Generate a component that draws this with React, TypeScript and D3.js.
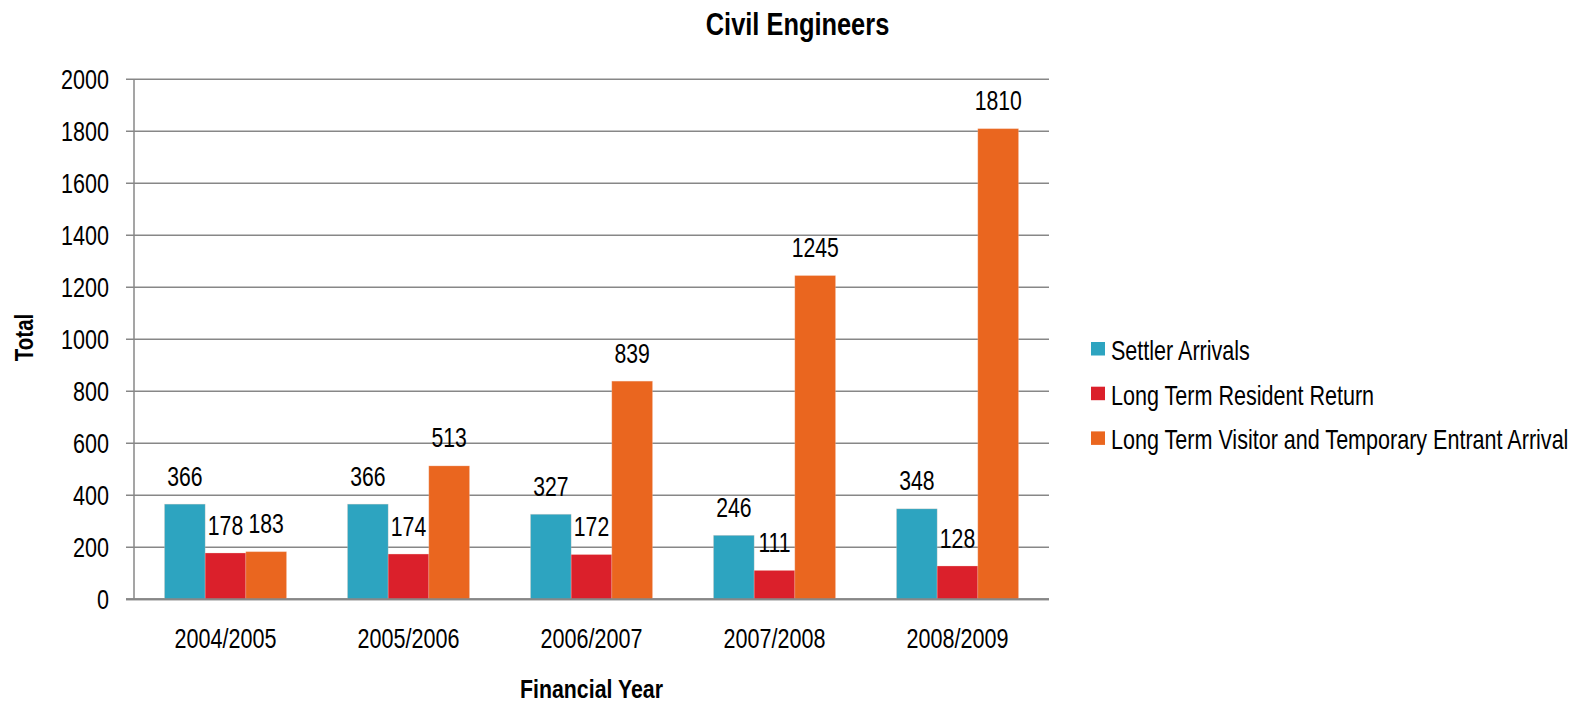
import React from 'react';
import * as d3 from 'd3';

const categories = ['2004/2005', '2005/2006', '2006/2007', '2007/2008', '2008/2009'];
const seriesNames = ['Settler Arrivals', 'Long Term Resident Return', 'Long Term Visitor and Temporary Entrant Arrival'];
const settlerArrivals = [366, 366, 327, 246, 348];
const residentReturn = [178, 174, 172, 111, 128];
const visitorArrival = [183, 513, 839, 1245, 1810];
const seriesColors = ['#2DA4C0', '#DB202B', '#EA661F'];
const yTicks = [0, 200, 400, 600, 800, 1000, 1200, 1400, 1600, 1800, 2000];

const FONT = '"Liberation Sans", Arial, sans-serif';

type NProps = {
  x: number;
  y: number;
  size: number;
  anchor?: 'start' | 'middle' | 'end';
  bold?: boolean;
  rotate?: number;
  dy?: string;
  sx?: number;
  children: React.ReactNode;
};

function NText({ x, y, size, anchor = 'start', bold = false, rotate = 0, dy, sx = 0.77, children }: NProps) {
  return (
    <text
      transform={`translate(${x},${y}) rotate(${rotate}) scale(${sx},1)`}
      textAnchor={anchor}
      fontSize={size}
      fontWeight={bold ? 'bold' : 'normal'}
      dy={dy}
      fill="#000"
    >
      {children}
    </text>
  );
}

export default function App() {
  const W = 1591, H = 703;
  const left = 134, right = 1049, top = 79.3, bottom = 599.3;
  const seriesValues = [settlerArrivals, residentReturn, visitorArrival];

  const x0 = d3.scaleBand<string>().domain(categories).range([left, right]).paddingInner(1 / 3).paddingOuter(1 / 6);
  const x1 = d3.scaleBand<string>().domain(seriesNames).range([0, x0.bandwidth()]).padding(0);
  const y = d3.scaleLinear().domain([0, 2000]).range([bottom, top]);

  const gridColor = '#878787';

  return (
    <svg width={W} height={H} style={{ position: 'absolute', left: 0, top: 0, background: '#fff' }} fontFamily={FONT}>
      <rect x={0} y={0} width={W} height={H} fill="#fff" />
      {/* title */}
      <NText x={797.5} y={35} size={31} anchor="middle" bold sx={0.82}>Civil Engineers</NText>

      {/* gridlines + tick labels */}
      {yTicks.map((t) => (
        <g key={t}>
          <line x1={126} x2={right} y1={y(t)} y2={y(t)} stroke={gridColor} strokeWidth={t === 0 ? 2 : 1.5} />
          <NText x={109} y={y(t)} size={28} anchor="end" dy="0.36em">{t}</NText>
        </g>
      ))}
      {/* y axis */}
      <line x1={left} x2={left} y1={top} y2={bottom} stroke={gridColor} strokeWidth={1.5} />

      {/* bars */}
      {categories.map((c, i) => (
        <g key={c} transform={`translate(${x0(c)},0)`}>
          {seriesNames.map((s, j) => {
            const v = seriesValues[j][i];
            const bx = x1(s)!;
            const bw = x1.bandwidth();
            return (
              <g key={s}>
                <rect x={bx} y={y(v)} width={bw} height={y(0) - y(v)} fill={seriesColors[j]} stroke="#f4c9b8" strokeOpacity={0.35} strokeWidth={0.8} />
                <NText x={bx + bw / 2} y={y(v) - 18.5} size={27.5} anchor="middle">{v}</NText>
              </g>
            );
          })}
        </g>
      ))}
      {/* x axis on top */}
      <line x1={126} x2={right} y1={bottom} y2={bottom} stroke={gridColor} strokeWidth={2} />

      {/* category labels */}
      {categories.map((c) => (
        <NText key={c} x={x0(c)! + x0.bandwidth() / 2} y={648} size={28} anchor="middle">{c}</NText>
      ))}

      {/* axis titles */}
      <NText x={591.5} y={698} size={26} anchor="middle" bold sx={0.82}>Financial Year</NText>
      <NText x={33} y={337.5} size={25} anchor="middle" bold rotate={-90} sx={0.82}>Total</NText>

      {/* legend */}
      {seriesNames.map((s, j) => (
        <rect key={s} x={1091} y={342 + j * 44.7} width={14} height={13.5} fill={seriesColors[j]} />
      ))}
      {seriesNames.map((s, j) => (
        <NText key={s + 't'} x={1111} y={360 + j * 44.7} size={28}>{s}</NText>
      ))}
    </svg>
  );
}
